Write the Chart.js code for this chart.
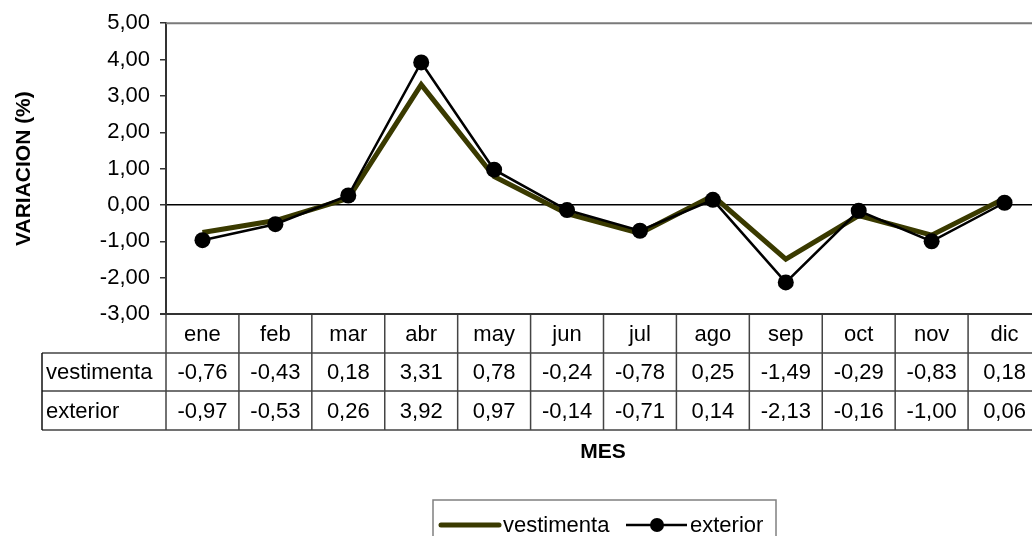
<!DOCTYPE html>
<html>
<head>
<meta charset="utf-8">
<script src="https://cdn.jsdelivr.net/npm/chart.js@4/dist/chart.umd.min.js"></script>
<style>
  html, body { margin: 0; padding: 0; background: #fff; overflow: hidden; }
  #wrap { width: 1032px; height: 536px; overflow: hidden; }
</style>
</head>
<body>
<div id="wrap"><canvas id="chart" width="1050" height="536"></canvas></div>
<script>
// Data
const meses = ["ene", "feb", "mar", "abr", "may", "jun", "jul", "ago", "sep", "oct", "nov", "dic"];
const vestimenta = [-0.76, -0.43, 0.18, 3.31, 0.78, -0.24, -0.78, 0.25, -1.49, -0.29, -0.83, 0.18];
const exterior = [-0.97, -0.53, 0.26, 3.92, 0.97, -0.14, -0.71, 0.14, -2.13, -0.16, -1.0, 0.06];
const yTicks = [-3, -2, -1, 0, 1, 2, 3, 4, 5];

const FONT = "'Liberation Sans', Arial, sans-serif";
const OLIVE = "#3a3a00";

const fmt = (v) => v.toFixed(2).replace(".", ",");

// Data table, MES title, plot border and legend
const tablePlugin = {
  id: "tablePlugin",
  afterDraw(chart) {
    const ctx = chart.ctx;
    const area = chart.chartArea;
    const x = chart.scales.x;
    const cellW = (area.right - area.left) / meses.length;
    const rows = [area.bottom, area.bottom + 39, area.bottom + 77, area.bottom + 116];
    const labelLeft = 42;

    ctx.save();
    // top border of plot area
    ctx.strokeStyle = "#7a7a7a";
    ctx.lineWidth = 2;
    ctx.beginPath();
    ctx.moveTo(area.left, area.top);
    ctx.lineTo(area.right, area.top);
    ctx.stroke();

    // grid of the table
    ctx.strokeStyle = "#444";
    ctx.lineWidth = 1.5;
    ctx.beginPath();
    // horizontal lines
    ctx.moveTo(labelLeft, rows[1]); ctx.lineTo(area.right, rows[1]);
    ctx.moveTo(labelLeft, rows[2]); ctx.lineTo(area.right, rows[2]);
    ctx.moveTo(labelLeft, rows[3]); ctx.lineTo(area.right, rows[3]);
    // vertical lines
    for (let i = 1; i <= meses.length; i++) {
      const xx = area.left + i * cellW;
      ctx.moveTo(xx, rows[0]); ctx.lineTo(xx, rows[3]);
    }
    ctx.moveTo(area.left, rows[0]); ctx.lineTo(area.left, rows[3]);
    ctx.stroke();
    ctx.strokeStyle = "#111";
    ctx.beginPath();
    ctx.moveTo(labelLeft, rows[1]); ctx.lineTo(labelLeft, rows[3]);
    ctx.stroke();
    // bottom axis line
    ctx.strokeStyle = "#333";
    ctx.lineWidth = 2;
    ctx.beginPath();
    ctx.moveTo(area.left - 6, area.bottom); ctx.lineTo(area.right, area.bottom);
    ctx.stroke();

    // texts
    ctx.fillStyle = "#000";
    ctx.font = "22px " + FONT;
    ctx.textBaseline = "middle";
    ctx.textAlign = "center";
    meses.forEach((m, i) => {
      const cx = x.getPixelForValue(i);
      ctx.fillText(m, cx, (rows[0] + rows[1]) / 2 + 1);
      ctx.fillText(fmt(vestimenta[i]), cx, (rows[1] + rows[2]) / 2 + 1);
      ctx.fillText(fmt(exterior[i]), cx, (rows[2] + rows[3]) / 2 + 1);
    });
    ctx.textAlign = "left";
    ctx.fillText("vestimenta", labelLeft + 4, (rows[1] + rows[2]) / 2 + 1);
    ctx.fillText("exterior", labelLeft + 4, (rows[2] + rows[3]) / 2 + 1);

    // x title
    ctx.font = "bold 21px " + FONT;
    ctx.textAlign = "center";
    ctx.fillText("MES", 603, 452);

    // legend
    ctx.strokeStyle = "#808080";
    ctx.lineWidth = 1.5;
    ctx.strokeRect(433, 500, 343, 40);
    ctx.lineCap = "round";
    ctx.strokeStyle = OLIVE;
    ctx.lineWidth = 5;
    ctx.beginPath();
    ctx.moveTo(441, 525); ctx.lineTo(499, 525);
    ctx.stroke();
    ctx.lineCap = "butt";
    ctx.strokeStyle = "#000";
    ctx.lineWidth = 2.5;
    ctx.beginPath();
    ctx.moveTo(626, 525); ctx.lineTo(687, 525);
    ctx.stroke();
    ctx.fillStyle = "#000";
    ctx.beginPath();
    ctx.arc(657, 525, 7, 0, Math.PI * 2);
    ctx.fill();
    ctx.font = "22px " + FONT;
    ctx.textAlign = "left";
    ctx.fillText("vestimenta", 503, 526);
    ctx.fillText("exterior", 690, 526);
    ctx.restore();
  },
};

const chart = new Chart(document.getElementById("chart"), {
  type: "line",
  data: {
    labels: meses,
    datasets: [
      {
        label: "vestimenta",
        data: vestimenta,
        borderColor: OLIVE,
        backgroundColor: OLIVE,
        borderWidth: 5,
        pointRadius: 0,
        tension: 0,
        order: 1,
      },
      {
        label: "exterior",
        data: exterior,
        borderColor: "#000",
        backgroundColor: "#000",
        borderWidth: 2.5,
        pointRadius: 8,
        pointBackgroundColor: "#000",
        pointBorderWidth: 0,
        tension: 0,
        order: 0,
      },
    ],
  },
  options: {
    responsive: false,
    animation: false,
    layout: { padding: { left: 0, top: 20, right: 9, bottom: 222 } },
    plugins: {
      legend: { display: false },
      tooltip: { enabled: false },
    },
    scales: {
      x: {
        display: false,
        offset: true,
      },
      y: {
        min: -3,
        max: 5,
        afterFit: (scale) => {
          scale.width = 166;
        },
        afterBuildTicks: (scale) => {
          scale.ticks = yTicks.map((v) => ({ value: v }));
        },
        border: { color: "#333", width: 2 },
        grid: {
          color: (c) => (c.tick && c.tick.value === 0 ? "#000" : "rgba(0,0,0,0)"),
          lineWidth: 1.5,
          tickColor: "#333",
          tickLength: 6,
          drawOnChartArea: true,
        },
        ticks: {
          color: "#000",
          font: { family: FONT, size: 22 },
          padding: 10,
          callback: (v) => fmt(v),
        },
        title: {
          display: true,
          text: "VARIACION (%)",
          color: "#000",
          font: { family: FONT, size: 21, weight: "bold" },
          padding: { top: 12, bottom: 0 },
        },
      },
    },
  },
  plugins: [tablePlugin],
});
</script>
</body>
</html>
